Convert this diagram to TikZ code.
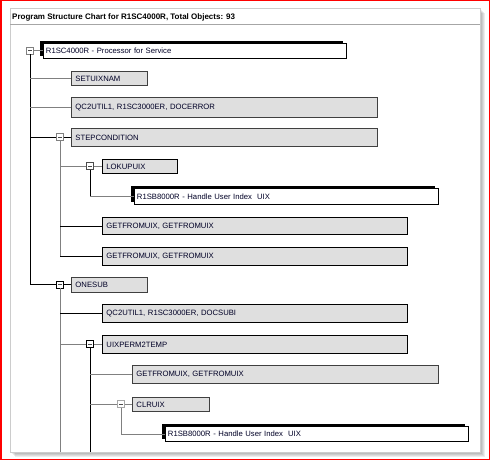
\documentclass[tikz,border=0pt]{standalone}
\usepackage{fontspec}
\setmainfont{Liberation Sans}
\usetikzlibrary{shadows}
\definecolor{boxfill}{HTML}{DFDFDF}
\definecolor{lingray}{HTML}{808080}
\definecolor{bordgray}{HTML}{404040}
\begin{document}
\begin{tikzpicture}[x=1pt,y=-1pt,
  txt/.style={font=\fontsize{7.7}{9}\selectfont, text=black!85!blue},
  gbox/.style={txt, draw=bordgray, line width=0.9pt, fill=boxfill, anchor=north west, inner xsep=4pt, inner ysep=0pt, align=left},
  bbox/.style={gbox, draw=black},
  wbox/.style={txt, draw=black, line width=0.9pt, fill=white, anchor=north west, inner xsep=2.5pt, inner ysep=0pt, align=left,
     general shadow={fill=black, shadow xshift=-3pt, shadow yshift=2.5pt}},
  cbox/.style={draw=lingray, fill=white, line width=0.7pt, minimum size=7pt, inner sep=0pt,
     path picture={\draw[line width=0.6pt,black!70] ([xshift=1.5pt]path picture bounding box.west) -- ([xshift=-1.5pt]path picture bounding box.east);}},
  cboxk/.style={cbox, draw=black},
  blk/.style={draw=black, line width=0.8pt},
  gry/.style={draw=lingray, line width=0.8pt}
]
% background and frame
\fill[white] (0,0) rectangle (490,460);
\foreach \i in {1,...,5} {\fill[black, opacity=0.07] (10+\i,8+\i) rectangle (480+\i,452+\i);}
\fill[white] (10,8) rectangle (480,452);
\draw[gray!40, line width=0.5pt] (10,8) rectangle (480,452);
\draw[gray!70, line width=1pt] (10,24.5) -- (480,24.5);
\draw[red, line width=1.5pt] (0.75,0.75) rectangle (489.25,459.25);

\node[anchor=base west, inner sep=0pt, font=\bfseries\fontsize{8}{9}\selectfont] (title) at (12,19.5) {Program Structure Chart for R1SC4000R, Total Objects: 93};

\coordinate (cut) at (0,452);

% nodes
\node[wbox, text width=298pt, minimum height=15pt] (root) at (43,43) {R1SC4000R - Processor for Service};
\node[cbox] (c0) at (30,50.5) {};

\node[gbox, text width=68pt, minimum height=14pt] (n1) at (71,71) {SETUIXNAM};
\node[gbox, text width=298pt, minimum height=20pt] (n2) at (71,97) {QC2UTIL1, R1SC3000ER, DOCERROR};
\node[gbox, text width=298pt, minimum height=18pt] (n3) at (71,128) {STEPCONDITION};
\node[cbox] (c3) at (60,137) {};
\node[bbox, text width=67pt, minimum height=14pt] (n31) at (102,159) {LOKUPUIX};
\node[cbox, draw=black!70] (c31) at (90,166) {};
\node[wbox, text width=299pt, minimum height=16pt] (n311) at (134,188) {R1SB8000R - Handle User Index\ \ UIX};
\node[bbox, text width=297pt, minimum height=17pt] (n32) at (102,217) {GETFROMUIX, GETFROMUIX};
\node[bbox, text width=297pt, minimum height=18pt] (n33) at (102,247) {GETFROMUIX, GETFROMUIX};
\node[gbox, text width=68pt, minimum height=15pt] (n4) at (71,277) {ONESUB};
\node[cboxk] (c4) at (60,284.5) {};
\node[bbox, text width=297pt, minimum height=18pt] (n41) at (102,304) {QC2UTIL1, R1SC3000ER, DOCSUBI};
\node[bbox, text width=297pt, minimum height=18pt] (n42) at (102,335) {UIXPERM2TEMP};
\node[cboxk] (c42) at (90,344) {};
\node[gbox, text width=298pt, minimum height=18pt] (n421) at (132,365) {GETFROMUIX, GETFROMUIX};
\node[gbox, text width=69pt, minimum height=14pt] (n422) at (132,397) {CLRUIX};
\node[cbox, draw=lingray!70] (c422) at (121,404) {};
\node[wbox, text width=298pt, minimum height=15pt] (n4221) at (165,426) {R1SB8000R - Handle User Index\ \ UIX};

% connectors
\draw[gry] (c0.east) -- (c0.east -| root.west);
\draw[blk] (c0.south) -- (c0.south |- c4.west);
\draw[gry] (c0.south |- n1.west) -- (n1.west);
\draw[gry] (c0.south |- n2.west) -- (n2.west);
\draw[blk] (c0.south |- c3.west) -- (c3.west);
\draw[blk] (c3.east) -- (c3.east -| n3.west);
\draw[gry] (c3.south) -- (c3.south |- n33.west);
\draw[gry] (c3.south |- c31.west) -- (c31.west);
\draw[gry] (c31.east) -- (c31.east -| n31.west);
\draw[blk] (c31.south) -- (c31.south |- n311.west);
\draw[gry] (c31.south |- n311.west) -- (n311.west);
\draw[blk] (c3.south |- n32.west) -- (n32.west);
\draw[blk] (c3.south |- n33.west) -- (n33.west);
\draw[blk] (c0.south |- c4.west) -- (c4.west);
\draw[blk] (c4.east) -- (c4.east -| n4.west);
\draw[gry] (c4.south) -- (c4.south |- cut);
\draw[blk] (c4.south |- n41.west) -- (n41.west);
\draw[gry] (c4.south |- c42.west) -- (c42.west);
\draw[gry] (c42.east) -- (c42.east -| n42.west);
\draw[blk] (c42.south) -- (c42.south |- cut);
\draw[gry] (c42.south |- n421.west) -- (n421.west);
\draw[gry] (c42.south |- c422.west) -- (c422.west);
\draw[gry] (c422.east) -- (c422.east -| n422.west);
\draw[gry] (c422.south) -- (c422.south |- n4221.west);
\draw[gry] (c422.south |- n4221.west) -- (n4221.west);
\end{tikzpicture}
\end{document}
